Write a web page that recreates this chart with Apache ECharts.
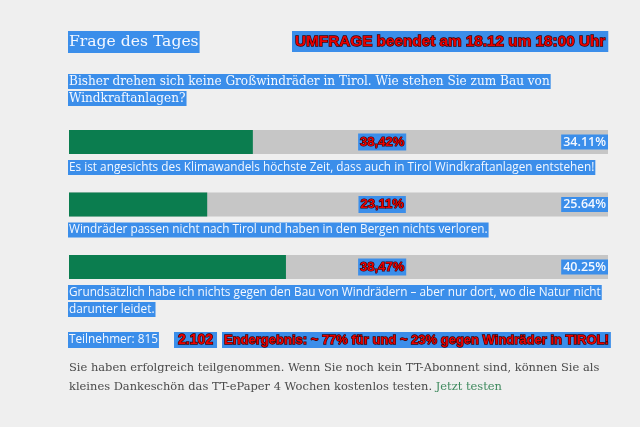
<!DOCTYPE html>
<html>
<head>
<meta charset="utf-8">
<script src="https://cdn.jsdelivr.net/npm/echarts@6/dist/echarts.min.js"></script>
<style>
  html, body { margin: 0; padding: 0; background: #efefef; }
  #chart { width: 640px; height: 427px; }
</style>
</head>
<body>
<div id="chart"></div>
<script>
// Umfrage-Daten
const answers = [
  ['Es ist angesichts des Klimawandels höchste Zeit, dass auch in Tirol Windkraftanlagen entstehen!'],
  ['Windräder passen nicht nach Tirol und haben in den Bergen nichts verloren.'],
  ['Grundsätzlich habe ich nichts gegen den Bau von Windrädern – aber nur dort, wo die Natur nicht', 'darunter leidet.']
]
const shownPct = [34.11, 25.64, 40.25]   // Balken + Wert rechts
const finalPct = [38.42, 23.11, 38.47]   // rote Endwerte
const fullScale = [100, 100, 100]
const participants = 815
const finalParticipants = '2.102'

const BLUE = '#3b8eea'
const chart = echarts.init(document.getElementById('chart'))

const option = {
  backgroundColor: '#efefef',
  animation: false,
  grid: { left: 69, right: 32, top: 110.75, height: 187.5 },
  xAxis: { type: 'value', min: 0, max: 100, show: false },
  yAxis: {
    type: 'category',
    inverse: true,
    data: answers.map(a => a.join(' ')),
    show: false
  },
  series: [
    {
      name: 'Anteil',
      type: 'bar',
      data: shownPct,
      barWidth: 24,
      showBackground: true,
      backgroundStyle: { color: '#c6c6c6' },
      itemStyle: { color: '#0b7d4f' }
    },
    {
      name: 'Wert',
      type: 'bar',
      data: fullScale,
      barWidth: 24,
      barGap: '-100%',
      itemStyle: { color: 'transparent' },
      label: {
        show: true,
        position: 'insideRight',
        distance: 0,
        formatter: p => shownPct[p.dataIndex].toFixed(2) + '%',
        fontFamily: 'Open Sans',
        fontWeight: 600,
        fontSize: 12.5,
        color: '#f4f8ff',
        backgroundColor: BLUE,
        padding: [1, 2, 1, 2]
      }
    },
    {
      name: 'Endergebnis',
      type: 'bar',
      data: fullScale,
      barWidth: 24,
      barGap: '-100%',
      itemStyle: { color: 'transparent' },
      label: {
        show: true,
        position: ['58.1%', '50%'],
        align: 'center',
        verticalAlign: 'middle',
        formatter: p => finalPct[p.dataIndex].toFixed(2).replace('.', ',') + '%',
        fontFamily: 'Liberation Sans',
        fontWeight: 'bold',
        fontSize: 13,
        color: '#e80000',
        textBorderColor: '#3a0000',
        textBorderWidth: 1.2,
        backgroundColor: BLUE,
        padding: [2, 2, 2, 2]
      }
    }
  ]
}
chart.setOption(option)

// Texte (Überschrift, Frage, Antworten, Fußzeile)
const serif = '"DejaVu Serif", serif'
function hl (x, y, text, font, fill, extra) {
  return {
    type: 'text',
    x: x,
    y: y,
    style: Object.assign({
      text: text,
      font: font,
      fill: fill || '#f4f8ff',
      backgroundColor: BLUE,
      padding: [2, 1, 2, 1],
      verticalAlign: 'top'
    }, extra || {})
  }
}
const redStyle = { stroke: '#3a0000', lineWidth: 1.3 }
const elements = [
  hl(68, 31, 'Frage des Tages', '15.6px ' + serif, null, { padding: [3, 1, 3, 1] }),
  hl(292, 31, 'UMFRAGE beendet am 18.12 um 18:00 Uhr', 'bold 15.3px "Liberation Sans"', '#e80000', Object.assign({ padding: [3, 3, 3, 3] }, redStyle)),
  hl(68, 74, 'Bisher drehen sich keine Großwindräder in Tirol. Wie stehen Sie zum Bau von', '12.1px ' + serif, null, { padding: [2, 1, 1, 1] }),
  hl(68, 91, 'Windkraftanlagen?', '12.1px ' + serif, null, { padding: [2, 1, 1, 1] })
]
answers.forEach((lines, i) => {
  const cy = chart.convertToPixel({ yAxisIndex: 0 }, i)
  lines.forEach((line, j) => {
    elements.push(hl(68, cy + 18 + j * 17, line, '11.8px "Open Sans"', null, { padding: [1.5, 1, 1.5, 1] }))
  })
})
elements.push(
  hl(68, 332, 'Teilnehmer: ' + participants, '11.8px "Open Sans"', null, { padding: [2, 1, 2, 1] }),
  hl(174, 332, finalParticipants, 'bold 14px "Liberation Sans"', '#e80000', Object.assign({ padding: [1, 4, 1, 4] }, redStyle)),
  hl(222, 332, 'Endergebnis: ~ 77% für und ~ 23% gegen Windräder in TIROL!', 'bold 13px "Liberation Sans"', '#e80000', Object.assign({ padding: [2, 2, 1, 2] }, redStyle)),
  {
    type: 'text',
    x: 69,
    y: 359,
    style: {
      text: 'Sie haben erfolgreich teilgenommen. Wenn Sie noch kein TT-Abonnent sind, können Sie als\nkleines Dankeschön das TT-ePaper 4 Wochen kostenlos testen. {g|Jetzt testen}',
      font: '11.45px ' + serif,
      lineHeight: 19,
      fill: '#4a4a4a',
      verticalAlign: 'top',
      rich: { g: { fill: '#3f8a5e', font: '11.45px ' + serif } }
    }
  }
)
chart.setOption({ graphic: { elements: elements } })
</script>
</body>
</html>
